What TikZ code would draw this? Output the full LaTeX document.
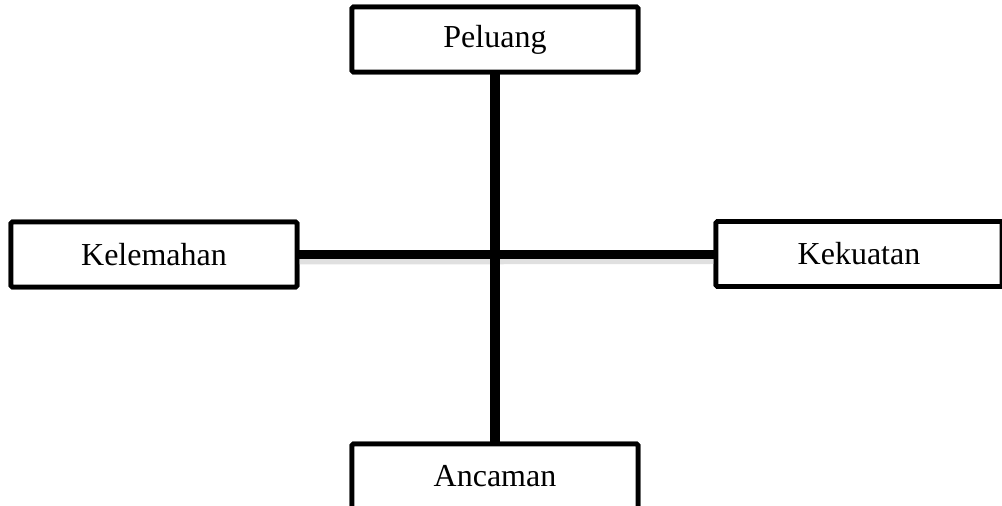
\documentclass[tikz,border=0pt]{standalone}
\usepackage{fontspec}
\setmainfont{Liberation Serif}
\begin{document}
\begin{tikzpicture}[x=1pt,y=1pt,
  swotbox/.style={draw=black, line width=4.8pt, rounded corners=1.5pt, fill=white,
    minimum width=286pt, minimum height=65pt, inner sep=0pt,
    font=\fontsize{32}{36}\selectfont},
  axis/.style={line width=9.5pt, draw=black},
  axisshade/.style={line width=8pt, draw=black!12}]
\useasboundingbox (0,0) rectangle (1002,506);
\clip (0,0) rectangle (1002,506);
% the four quadrant labels
\node[swotbox] (peluang)   at (495,466.5) {Peluang};
\node[swotbox] (kelemahan) at (154,251.5) {Kelemahan};
\node[swotbox] (kekuatan)  at (859,252)   {Kekuatan};
\node[swotbox] (ancaman)   at (495,29.5)  {Ancaman};
% soft shade under the horizontal axis
\draw[axisshade] ([yshift=-6pt]kelemahan.east) -- ([yshift=-6pt]kekuatan.west);
% the two axes
\draw[axis] (peluang.south) -- (ancaman.north);
\draw[axis] (kelemahan.east) -- (kekuatan.west |- kelemahan.east);
% redraw boxes on top of the axis ends
\node[swotbox] at (peluang) {Peluang};
\node[swotbox] at (kelemahan) {Kelemahan};
\node[swotbox] at (kekuatan) {Kekuatan};
\node[swotbox] at (ancaman) {Ancaman};
\end{tikzpicture}
\end{document}
